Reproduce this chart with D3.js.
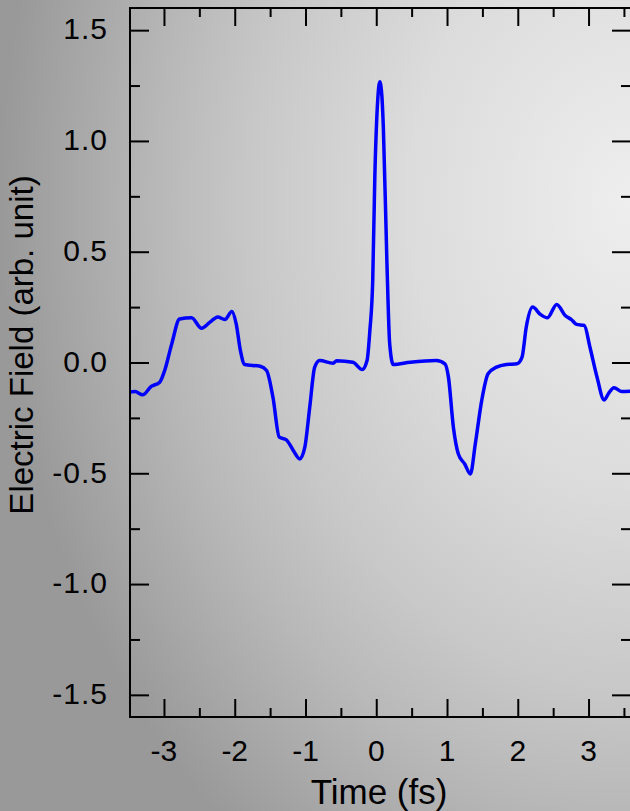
<!DOCTYPE html>
<html>
<head>
<meta charset="utf-8">
<script src="https://cdn.jsdelivr.net/npm/d3@7.9.0/dist/d3.min.js"></script>
<style>
  html, body { margin: 0; padding: 0; background: #999; }
  svg { display: block; }
  text { font-family: "Liberation Sans", Arial, sans-serif; fill: #000; }
</style>
</head>
<body>
<svg id="chart" width="630" height="811"></svg>
<script>
// Time axis (fs) and the field trace
const times = [
  -3.50, -3.41, -3.30, -3.18, -3.06, -2.99, -2.89, -2.78, -2.61, -2.47,
  -2.35, -2.24, -2.14, -2.04, -1.98, -1.92, -1.86, -1.64, -1.55, -1.46,
  -1.37, -1.27, -1.17, -1.08, -1.01, -0.94, -0.87, -0.80, -0.61, -0.56,
  -0.33, -0.20, -0.13, -0.09, -0.05, -0.02, 0.02, 0.05, 0.08, 0.10,
  0.15, 0.19, 0.24, 0.48, 0.85, 0.97, 1.02, 1.09, 1.16, 1.25,
  1.33, 1.40, 1.49, 1.58, 1.70, 1.84, 1.99, 2.06, 2.12, 2.21,
  2.32, 2.42, 2.55, 2.67, 2.76, 2.83, 2.94, 3.02, 3.12, 3.22,
  3.28, 3.36, 3.47, 3.60
];
const field = [
  -0.134, -0.131, -0.146, -0.108, -0.089, -0.036, 0.084, 0.196, 0.202, 0.155,
  0.182, 0.205, 0.194, 0.230, 0.175, 0.054, -0.009, -0.017, -0.036, -0.157,
  -0.337, -0.349, -0.398, -0.435, -0.383, -0.202, -0.021, 0.009, -0.003, 0.008,
  0.001, -0.032, 0.009, 0.145, 0.37, 0.84, 1.18, 1.267, 1.20, 1.063,
  0.46, 0.084, -0.009, 0.001, 0.009, -0.006, -0.066, -0.292, -0.413, -0.458,
  -0.503, -0.367, -0.172, -0.051, -0.021, -0.009, -0.006, 0.024, 0.160, 0.250,
  0.217, 0.202, 0.262, 0.212, 0.193, 0.172, 0.167, 0.069, -0.066, -0.169,
  -0.141, -0.114, -0.131, -0.130
];

const xMajor = [-3, -2, -1, 0, 1, 2, 3];
const xMinor = [-2.5, -1.5, -0.5, 0.5, 1.5, 2.5, 3.5];
const yMajor = [-1.5, -1.0, -0.5, 0.0, 0.5, 1.0, 1.5];
const yMinor = [-1.25, -0.75, -0.25, 0.25, 0.75, 1.25];

const svg = d3.select('#chart');
const W = 630, H = 811;
const pLeft = 130, pRight = 631, pTop = 8, pBottom = 717;

// background: light on the right, darker towards the left
const defs = svg.append('defs');
const grad = defs.append('radialGradient')
  .attr('id', 'bg')
  .attr('cx', 1.0).attr('cy', 0.25).attr('r', 1.0)
  .attr('fx', 1.0).attr('fy', 0.25);
[[0, '#eeeeee'], [0.35, '#dcdcdc'], [0.6, '#c8c8c8'], [0.75, '#b8b8b8'], [1, '#999999']]
  .forEach(([o, c]) => grad.append('stop').attr('offset', o).attr('stop-color', c));
svg.append('rect').attr('width', W).attr('height', H).attr('fill', 'url(#bg)');

defs.append('clipPath').attr('id', 'plot-clip')
  .append('rect')
  .attr('x', pLeft).attr('y', pTop)
  .attr('width', pRight - pLeft).attr('height', pBottom - pTop);

const x = d3.scaleLinear().domain([-3.48, 3.6]).range([pLeft, pRight]);
const y = d3.scaleLinear().domain([-1.6, 1.6]).range([pBottom, pTop]);

// trace
const line = d3.line()
  .x((d, i) => x(times[i]))
  .y(d => y(d))
  .curve(d3.curveMonotoneX);

svg.append('path')
  .datum(field)
  .attr('clip-path', 'url(#plot-clip)')
  .attr('fill', 'none')
  .attr('stroke', '#0000ff')
  .attr('stroke-width', 3.5)
  .attr('stroke-linejoin', 'round')
  .attr('d', line);

// ticks pointing inward on all four sides
function ticks(axis, pos, vals, size) {
  const g = svg.append('g')
    .attr('transform', pos)
    .call(axis.tickValues(vals).tickSize(size).tickSizeOuter(0).tickFormat(''));
  g.select('.domain').remove();
  g.selectAll('line').attr('stroke', '#000').attr('stroke-width', 2);
  return g;
}

ticks(d3.axisBottom(x), `translate(0,${pBottom})`, xMajor, -18);
ticks(d3.axisBottom(x), `translate(0,${pBottom})`, xMinor, -9);
ticks(d3.axisTop(x), `translate(0,${pTop})`, xMajor, -18);
ticks(d3.axisTop(x), `translate(0,${pTop})`, xMinor, -9);
ticks(d3.axisLeft(y), `translate(${pLeft},0)`, yMajor, -19);
ticks(d3.axisLeft(y), `translate(${pLeft},0)`, yMinor, -10);
ticks(d3.axisRight(y), `translate(${pRight},0)`, yMajor, -19);
ticks(d3.axisRight(y), `translate(${pRight},0)`, yMinor, -10);

// frame
svg.append('rect')
  .attr('x', pLeft).attr('y', pTop)
  .attr('width', pRight - pLeft).attr('height', pBottom - pTop)
  .attr('fill', 'none')
  .attr('stroke', '#000')
  .attr('stroke-width', 2);

// tick labels
svg.append('g').selectAll('text')
  .data(xMajor)
  .join('text')
  .attr('x', d => x(d))
  .attr('y', 761)
  .attr('text-anchor', 'middle')
  .style('font-size', '30px')
  .text(d => String(d));

svg.append('g').selectAll('text')
  .data(yMajor)
  .join('text')
  .attr('x', 108)
  .attr('y', d => y(d))
  .attr('dy', '0.31em')
  .attr('text-anchor', 'end')
  .style('font-size', '30px')
  .style('letter-spacing', '1px')
  .text(d => d.toFixed(1));

// axis titles
svg.append('text')
  .attr('x', 379).attr('y', 804)
  .attr('text-anchor', 'middle')
  .style('font-size', '35px')
  .text('Time (fs)');

svg.append('text')
  .attr('transform', 'translate(33,345) rotate(-90)')
  .attr('text-anchor', 'middle')
  .style('font-size', '33px')
  .text('Electric Field (arb. unit)');
</script>
</body>
</html>
